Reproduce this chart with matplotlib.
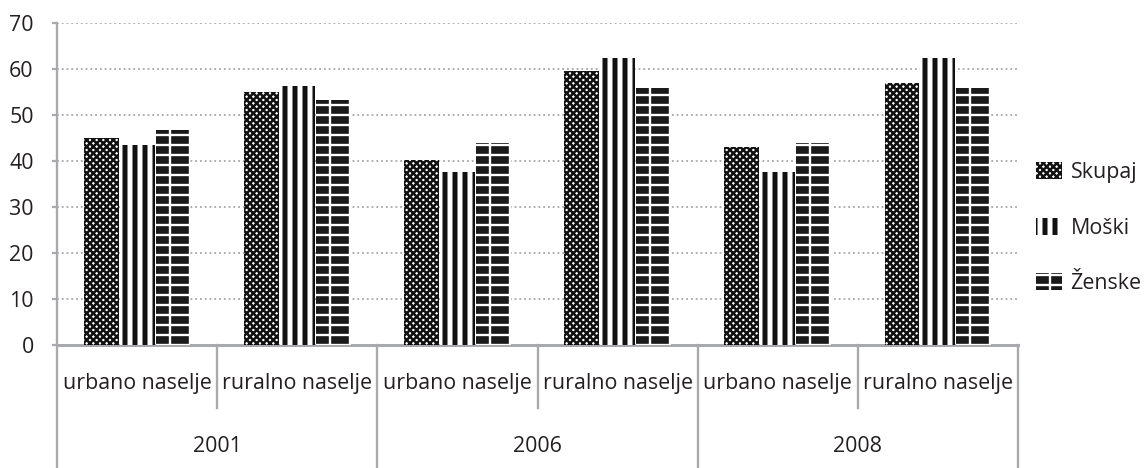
import matplotlib
matplotlib.use('Agg')
import matplotlib.pyplot as plt
from matplotlib.patches import Patch
import numpy as np

# data
years = ['2001', '2006', '2008']
settlements = ['urbano naselje', 'ruralno naselje']
series = ['Skupaj', 'Moški', 'Ženske']

skupaj = [45.0, 54.9, 40.3, 59.6, 43.0, 56.9]
moski = [43.4, 56.4, 37.7, 62.3, 37.7, 62.3]
zenske = [46.7, 53.3, 44.0, 55.9, 44.0, 55.9]

values = [skupaj, moski, zenske]

FS = 12.8
plt.rcParams['font.family'] = ['Open Sans', 'DejaVu Sans']
plt.rcParams['font.size'] = FS
plt.rcParams['text.color'] = '#231f20'

# (facecolor, hatch colour, hatch, hatch linewidth)
styles = [
    ('white', '#111111', 'xxxxxx', 1.5),
    ('white', '#111111', '||', 3.0),
    ('#1a1a1a', 'white', '--|', 1.4),
]

DPI = 120
fig = plt.figure(figsize=(1145 / DPI, 468 / DPI), dpi=DPI)
ax = fig.add_axes([57 / 1145, 123 / 468, (1018 - 57) / 1145, 322 / 468])

n = len(skupaj)
x = np.arange(n)
w = 0.218
gap = 0.224

handles = []
for i, (vals, st) in enumerate(zip(values, styles)):
    face, hcol, hatch, hlw = st
    with plt.rc_context({'hatch.linewidth': hlw}):
        bars = ax.bar(x + (i - 1) * gap, vals, width=w, color=face,
                      edgecolor=hcol, hatch=hatch, linewidth=0, zorder=3)
        for b in bars:
            if hasattr(b, 'set_hatch_linewidth'):
                b.set_hatch_linewidth(hlw)
    handles.append(Patch(facecolor=face, edgecolor=hcol, hatch=hatch,
                         linewidth=0, label=series[i]))

ax.set_xlim(-0.5, n - 0.5)
ax.set_ylim(0, 70)
ax.set_yticks(range(0, 71, 10))
ax.yaxis.grid(True, color='#a7a9ac', linestyle=(0, (1, 1.6)), linewidth=1.1, zorder=0)
ax.set_axisbelow(True)

for s in ['top', 'right']:
    ax.spines[s].set_visible(False)
ax.spines['left'].set_color('#a7a9ac')
ax.spines['left'].set_linewidth(1.4)
ax.spines['bottom'].set_color('#a7a9ac')
ax.spines['bottom'].set_linewidth(1.8)
ax.tick_params(axis='y', length=3, width=1.3, color='#a7a9ac', pad=11,
               labelsize=FS, labelcolor='#231f20')
ax.tick_params(axis='x', length=0, labelbottom=False)

# two-level category axis
trans = ax.get_xaxis_transform()
for i in range(n):
    ax.text(i, -0.121, settlements[i % 2], transform=trans, ha='center',
            va='center', fontsize=FS)
for j, yr in enumerate(years):
    ax.text(2 * j + 0.5, -0.315, yr, transform=trans, ha='center',
            va='center', fontsize=FS)
for j in range(len(years) + 1):
    ax.plot([2 * j - 0.5, 2 * j - 0.5], [0, -0.385], transform=trans,
            color='#a7a9ac', linewidth=1.4, clip_on=False)
for j in range(len(years)):
    ax.plot([2 * j + 0.5, 2 * j + 0.5], [0, -0.196], transform=trans,
            color='#a7a9ac', linewidth=1.4, clip_on=False)

leg = fig.legend(handles=handles, loc='center left',
                 bbox_to_anchor=(1036 / 1145, 1 - 228 / 468), frameon=False,
                 fontsize=FS, handlelength=1.22, handleheight=0.85,
                 handletextpad=0.4, labelspacing=1.6, borderpad=0,
                 borderaxespad=0)
for p, st in zip(leg.get_patches(), styles):
    if hasattr(p, 'set_hatch_linewidth'):
        p.set_hatch_linewidth(st[3])

fig.savefig('out.png', dpi=DPI)
